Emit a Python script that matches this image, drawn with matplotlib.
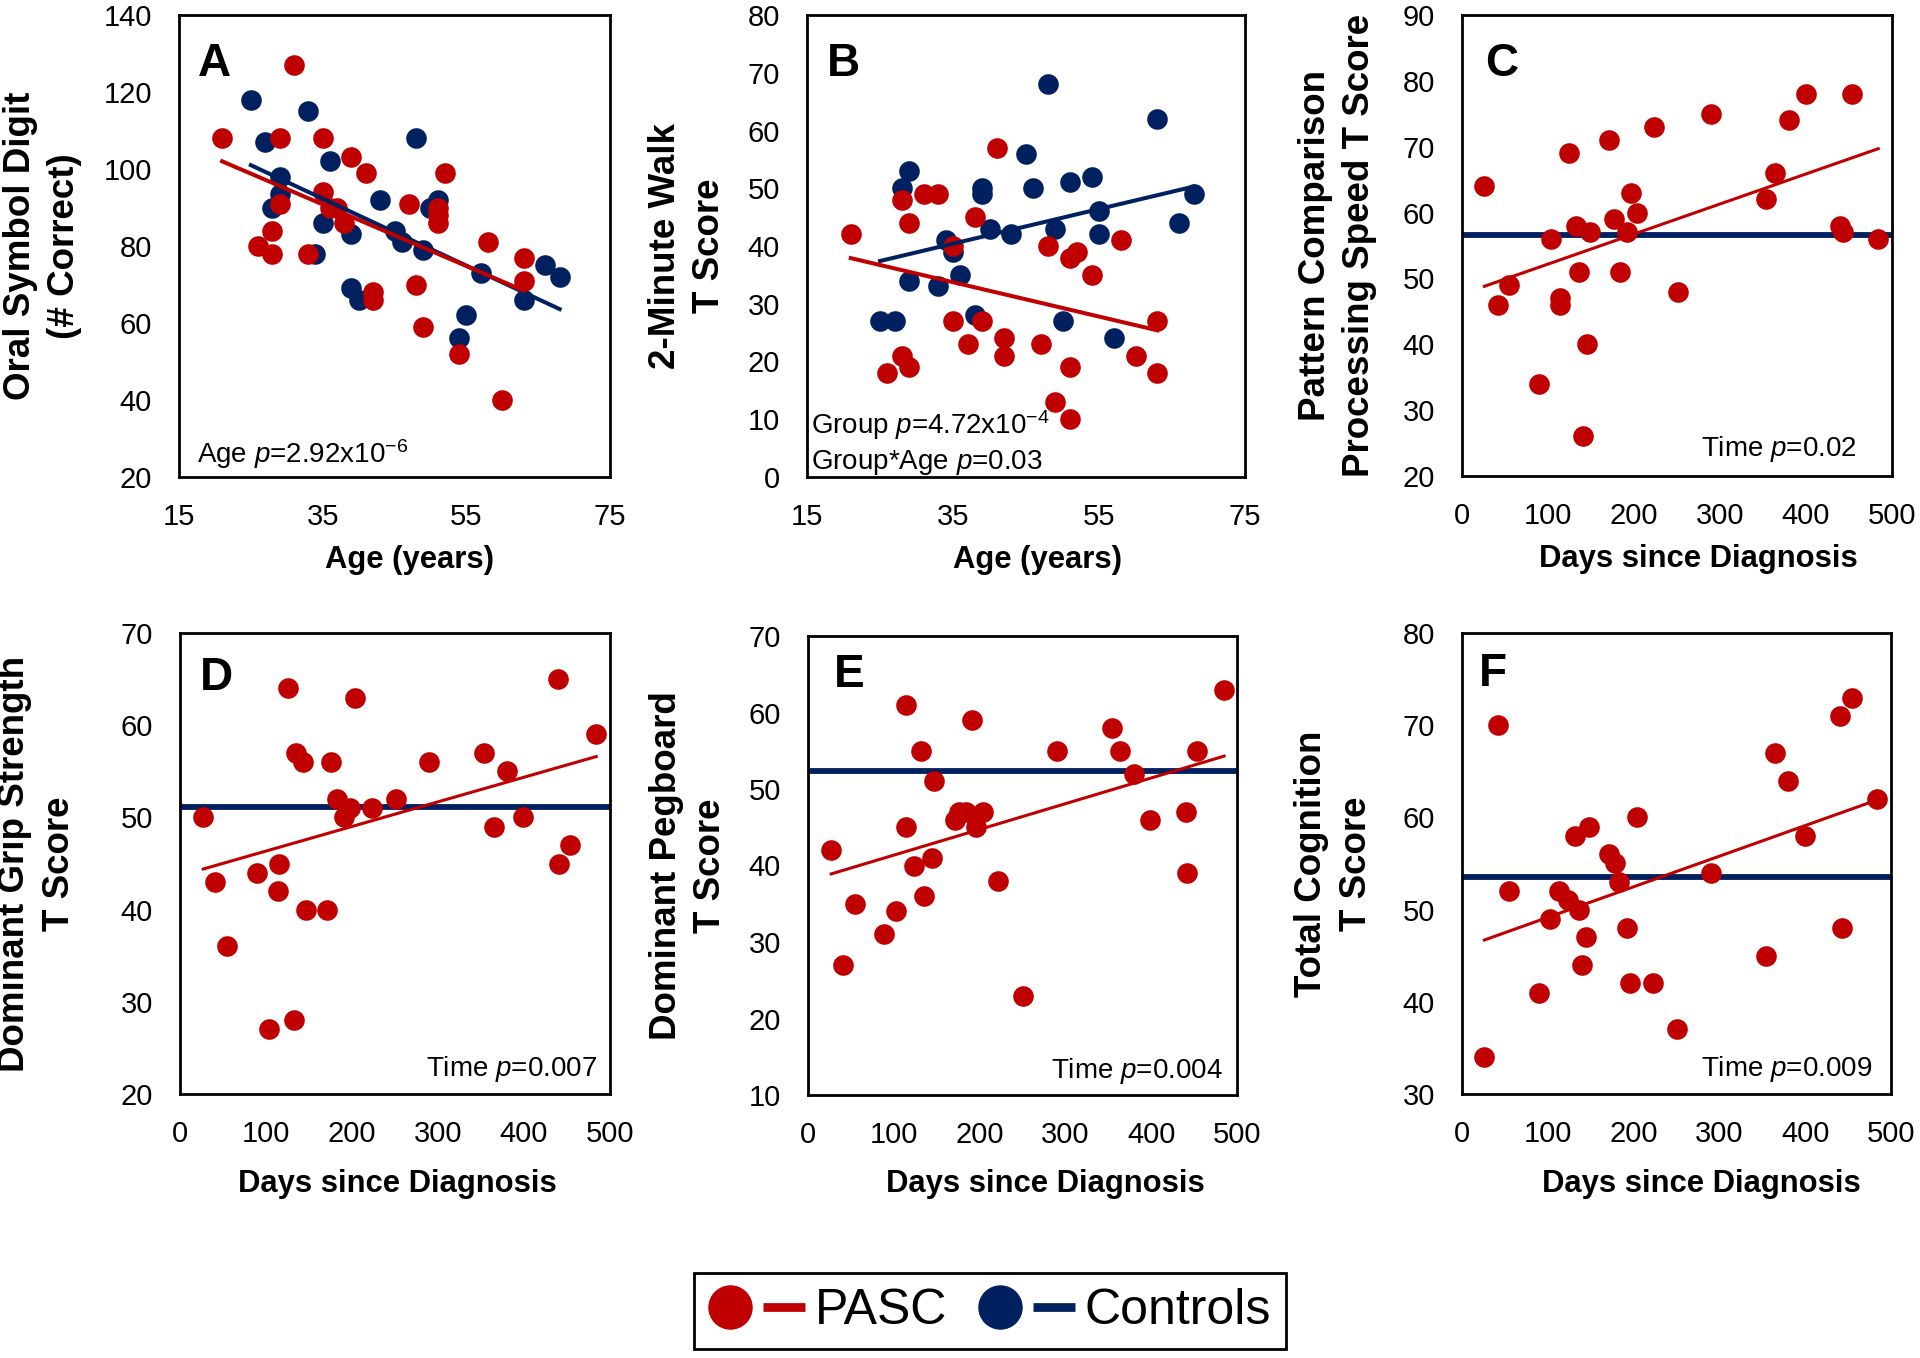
import numpy as np
import matplotlib as mpl
mpl.use("Agg")
import matplotlib.pyplot as plt
from matplotlib.lines import Line2D
from matplotlib.legend_handler import HandlerTuple

# Fuente tipo Arial para todo, incluida la p en cursiva
mpl.rcParams['font.family'] = 'Liberation Sans'
mpl.rcParams['mathtext.fontset'] = 'custom'
mpl.rcParams['mathtext.rm'] = 'Liberation Sans'
mpl.rcParams['mathtext.it'] = 'Liberation Sans:italic'

ROJO = "#C00000"
AZUL = "#002060"

# ---- Panel A: Oral Symbol Digit vs Age ----
a_pasc_age = [21, 31, 29, 35, 39, 41, 35, 37, 36, 29, 47, 52, 51, 51, 51, 28, 26, 28, 33, 38,
              58, 63, 63, 48, 42, 42, 49, 54, 60]
a_pasc_val = [108, 127, 108, 108, 103, 99, 94, 90, 90, 91, 91, 99, 90, 88, 86, 84, 80, 78, 78, 86,
              81, 77, 71, 70, 68, 66, 59, 52, 40]
a_ctrl_age = [25, 33, 27, 48, 36, 29, 29, 28, 43, 35, 39, 45, 46, 49, 51, 50, 34, 39, 40, 55,
              54, 57, 63, 66, 68]
a_ctrl_val = [118, 115, 107, 108, 102, 98, 93.5, 90, 92, 86, 83, 84, 81, 79, 92, 90, 78, 69, 66, 62,
              56, 73, 66, 75, 72]
a_pasc_fit = [102, 68.4]
a_ctrl_fit = [101, 63.6]

# ---- Panel B: 2-Minute Walk vs Age ----
b_pasc_age = [21, 26, 28, 29, 28, 29, 31, 33, 35, 35, 37, 38, 39, 41, 42, 42, 47, 48, 49, 51,
              52, 51, 51, 54, 58, 60, 63, 63]
b_pasc_val = [42, 18, 21, 19, 48, 44, 49, 49, 40, 27, 23, 45, 27, 57, 24, 21, 23, 40, 13, 38,
              39, 19, 10, 35, 41, 21, 27, 18]
b_ctrl_age = [25, 27, 28, 29, 29, 33, 34, 35, 36, 38, 39, 39, 40, 43, 45, 46, 48, 49, 50, 51,
              54, 55, 55, 57, 63, 66, 68]
b_ctrl_val = [27, 27, 50, 53, 34, 33, 41, 39, 35, 28, 50, 49, 43, 42, 56, 50, 68, 43, 27, 51,
              52, 46, 42, 24, 62, 44, 49]
b_pasc_fit = [37.9, 25.4]
b_ctrl_fit = [37.4, 50.3]

# ---- Panel C: Pattern Comparison vs Days ----
c_days = [26, 42, 55, 89, 104, 114, 114, 124, 133, 136, 145, 141, 149, 171, 177, 184, 192, 196,
          204, 223, 251, 290, 353, 364, 380, 400, 440, 443, 453, 484]
c_val = [64, 46, 49, 34, 56, 47, 46, 69, 58, 51, 40, 26, 57, 71, 59, 51, 57, 63,
         60, 73, 48, 75, 62, 66, 74, 78, 58, 57, 78, 56]
c_pasc_fit = [48.8, 69.7]
c_ctrl_mean = 56.6

# ---- Panel D: Dominant Grip Strength vs Days ----
d_days = [27, 41, 55, 90, 104, 114, 115, 125, 133, 135, 143, 147, 171, 176, 183, 191, 198, 204,
          223, 251, 289, 354, 365, 380, 399, 440, 441, 453, 484]
d_val = [50, 43, 36, 44, 27, 42, 45, 64, 28, 57, 56, 40, 40, 56, 52, 50, 51, 63,
         51, 52, 56, 57, 49, 55, 50, 65, 45, 47, 59]
d_pasc_fit = [44.4, 56.6]
d_ctrl_mean = 51.1

# ---- Panel E: Dominant Pegboard vs Days ----
e_days = [27, 41, 55, 89, 103, 114, 114, 124, 132, 135, 144, 147, 171, 176, 184, 191, 196, 204,
          222, 251, 290, 354, 364, 380, 399, 440, 442, 453, 485]
e_val = [42, 27, 35, 31, 34, 61, 45, 40, 55, 36, 41, 51, 46, 47, 47, 59, 45, 47,
         38, 23, 55, 58, 55, 52, 46, 47, 39, 55, 63]
e_pasc_fit = [38.9, 54.3]
e_ctrl_mean = 52.3

# ---- Panel F: Total Cognition vs Days ----
f_days = [26, 42, 55, 90, 103, 113, 124, 132, 136, 140, 144, 148, 171, 178, 183, 192, 196, 204,
          223, 251, 290, 354, 365, 380, 400, 440, 443, 454, 484]
f_val = [34, 70, 52, 41, 49, 52, 51, 58, 50, 44, 47, 59, 56, 55, 53, 48, 42, 60,
         42, 37, 54, 45, 67, 64, 58, 71, 48, 73, 62]
f_pasc_fit = [46.7, 61.9]
f_ctrl_mean = 53.5

fig = plt.figure(figsize=(19.2, 13.58), dpi=100)
W, H = 1920, 1358
PUNTO = 220


def crear_ejes(izq, der, arriba, abajo):
    return fig.add_axes([izq / W, (H - abajo) / H, (der - izq) / W, (abajo - arriba) / H])


def estilo(ax, ylim, yticks, xlim, xticks, ylabel, xlabel, ylab_x, xlab_x, xlab_y):
    ax.set_xlim(xlim)
    ax.set_ylim(ylim)
    ax.set_xticks(xticks)
    ax.set_yticks(yticks)
    ax.tick_params(axis="x", length=0, pad=18.5, labelsize=21)
    ax.tick_params(axis="y", length=0, pad=19.5, labelsize=21)
    for s in ax.spines.values():
        s.set_linewidth(2)
    ax.set_ylabel(ylabel, fontsize=26.5, fontweight="bold", linespacing=1.35)
    ax.yaxis.set_label_coords(ylab_x, 0.5)
    ax.set_xlabel(xlabel, fontsize=22.3, fontweight="bold")
    ax.xaxis.set_label_coords(xlab_x, xlab_y)


def letra(ax, txt, x, y):
    ax.text(x, y, txt, transform=ax.transAxes, fontsize=33, fontweight="bold", va="baseline")


# Panel A
ax = crear_ejes(179, 610, 15, 477)
ax.scatter(a_ctrl_age, a_ctrl_val, s=PUNTO, color=AZUL, linewidths=0, zorder=2)
ax.scatter(a_pasc_age, a_pasc_val, s=PUNTO, color=ROJO, linewidths=0, zorder=2.2)
ax.plot([min(a_ctrl_age), max(a_ctrl_age)], a_ctrl_fit, color=AZUL, lw=2.9, zorder=3)
ax.plot([min(a_pasc_age), max(a_pasc_age)], a_pasc_fit, color=ROJO, lw=2.9, zorder=3.2)
estilo(ax, (20, 140), range(20, 141, 20), (15, 75), [15, 35, 55, 75],
       "Oral Symbol Digit\n(# Correct)", "Age (years)", -0.225, 0.534, -0.148)
letra(ax, "A", 0.044, 0.867)
ax.text(0.041, 0.03, r"Age $p$=2.92x10$^{\mathrm{-6}}$", transform=ax.transAxes, fontsize=20)

# Panel B
ax = crear_ejes(807, 1245, 15, 477)
ax.scatter(b_ctrl_age, b_ctrl_val, s=PUNTO, color=AZUL, linewidths=0, zorder=2)
ax.scatter(b_pasc_age, b_pasc_val, s=PUNTO, color=ROJO, linewidths=0, zorder=2.2)
ax.plot([min(b_ctrl_age), max(b_ctrl_age)], b_ctrl_fit, color=AZUL, lw=2.9, zorder=3)
ax.plot([min(b_pasc_age), max(b_pasc_age)], b_pasc_fit, color=ROJO, lw=2.9, zorder=3.2)
estilo(ax, (0, 80), range(0, 81, 10), (15, 75), [15, 35, 55, 75],
       "2-Minute Walk\nT Score", "Age (years)", -0.182, 0.526, -0.148)
letra(ax, "B", 0.045, 0.867)
ax.text(0.008, 0.094, r"Group $p$=4.72x10$^{\mathrm{-4}}$", transform=ax.transAxes, fontsize=20)
ax.text(0.008, 0.017, r"Group*Age $p$=0.03", transform=ax.transAxes, fontsize=20)

# Paneles C-F (solo PASC con media de controles)
paneles = [
    ((1462, 1892, 15, 476), c_days, c_val, c_pasc_fit, c_ctrl_mean, (20, 90), range(20, 91, 10),
     "Pattern Comparison\nProcessing Speed T Score", -0.197, 0.55, -0.148, "C", 0.054, 0.867,
     r"Time $p$=0.02", 0.917, 0.043),
    ((180, 610, 633, 1094), d_days, d_val, d_pasc_fit, d_ctrl_mean, (20, 70), range(20, 71, 10),
     "Dominant Grip Strength\nT Score", -0.24, 0.506, -0.162, "D", 0.047, 0.876,
     r"Time $p$=0.007", 0.969, 0.039),
    ((808, 1237, 636, 1095), e_days, e_val, e_pasc_fit, e_ctrl_mean, (10, 70), range(10, 71, 10),
     "Dominant Pegboard\nT Score", -0.186, 0.554, -0.162, "E", 0.06, 0.889,
     r"Time $p$=0.004", 0.966, 0.036),
    ((1462, 1891, 633, 1094), f_days, f_val, f_pasc_fit, f_ctrl_mean, (30, 80), range(30, 81, 10),
     "Total Cognition\nT Score", -0.206, 0.557, -0.162, "F", 0.04, 0.884,
     r"Time $p$=0.009", 0.957, 0.039),
]

for (caja, dias, val, ajuste, media, ylim, yticks, ylabel, ylx, xlx, xly,
     let, lx, ly, ptxt, px, py) in paneles:
    ax = crear_ejes(*caja)
    ax.axhline(media, color=AZUL, lw=4.2, zorder=1.5)
    ax.scatter(dias, val, s=PUNTO, color=ROJO, linewidths=0, zorder=2.2)
    ax.plot([min(dias), max(dias)], ajuste, color=ROJO, lw=2.2, zorder=3.2)
    estilo(ax, ylim, yticks, (0, 500), range(0, 501, 100), ylabel, "Days since Diagnosis",
           ylx, xlx, xly)
    letra(ax, let, lx, ly)
    ax.text(px, py, ptxt, transform=ax.transAxes, fontsize=20, ha="right")

# Leyenda común
punto_r = Line2D([], [], marker="o", ls="none", ms=31, mfc=ROJO, mec=ROJO)
linea_r = Line2D([], [], color=ROJO, lw=6.3, solid_capstyle="butt")
punto_b = Line2D([], [], marker="o", ls="none", ms=31, mfc=AZUL, mec=AZUL)
linea_b = Line2D([], [], color=AZUL, lw=6.3, solid_capstyle="butt")
leg = fig.legend([(punto_r, linea_r), (punto_b, linea_b)], ["PASC", "Controls"],
                 handler_map={tuple: HandlerTuple(ndivide=None, pad=0.25)},
                 loc="center", bbox_to_anchor=(990 / W, 1 - 1311 / H), ncol=2, fontsize=36,
                 frameon=True, fancybox=False, edgecolor="black", framealpha=1,
                 handlelength=1.91, handletextpad=0.2, columnspacing=0.64, borderpad=0.3)
leg.get_frame().set_linewidth(2)

fig.savefig("out.png", dpi=100)
